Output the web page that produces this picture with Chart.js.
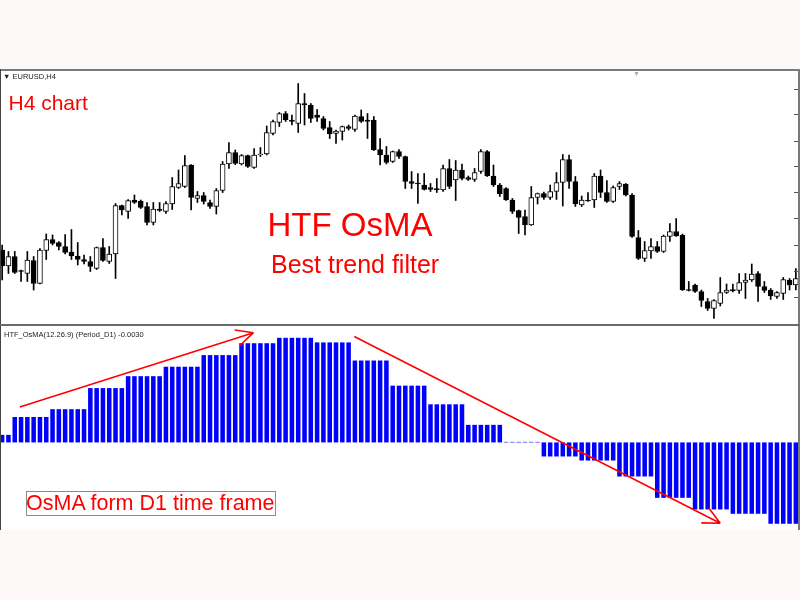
<!DOCTYPE html>
<html>
<head>
<meta charset="utf-8">
<title>HTF OsMA</title>
<script src="https://cdn.jsdelivr.net/npm/chart.js@4.4.1/dist/chart.umd.min.js"></script>
<style>
  body { margin:0; width:800px; height:600px; background:#fdf9f9; position:relative; overflow:hidden; font-family:"Liberation Sans", Arial, sans-serif; }
  #panel { position:absolute; left:0; top:69px; width:800px; height:461px; background:#fff; }
  canvas { position:absolute; }
  #price { left:-1px; top:71px; }
  #osma { left:-1px; top:327px; }
  .line { position:absolute; background:#7a7a7a; }
  .txt { position:absolute; line-height:1; white-space:nowrap; color:#ff0000; }
  .small { position:absolute; line-height:1; white-space:nowrap; color:#222; font-size:7.5px; }
</style>
</head>
<body>
<div id="panel"></div>
<canvas id="price" width="800" height="252"></canvas>
<canvas id="osma" width="800" height="203"></canvas>

<div class="line" style="left:0;top:69px;width:800px;height:2px"></div>
<div class="line" style="left:0;top:69px;width:1px;height:461px;background:#444"></div>
<div class="line" style="left:798px;top:69px;width:2px;height:461px"></div>
<div class="line" style="left:0;top:324px;width:800px;height:2px;background:#6a6a6a"></div>

<div class="small" style="left:3px;top:73px">&#9660; EURUSD,H4</div>
<div class="small" style="left:633px;top:70px;color:#aaa;font-size:7px">&#9660;</div>
<div class="small" style="left:4px;top:331px">HTF_OsMA(12.26.9) (Period_D1) -0.0030</div>

<div class="txt" style="left:8.5px;top:91.5px;font-size:21px">H4 chart</div>
<div class="txt" style="left:267.5px;top:207.5px;font-size:33px">HTF OsMA</div>
<div class="txt" style="left:271px;top:252px;font-size:25px">Best trend filter</div>
<div style="position:absolute;left:26px;top:491px;width:250px;height:25px;box-sizing:border-box;border:1px solid #8a8a8a"></div>
<div class="txt" style="left:26px;top:492.5px;font-size:21.5px">OsMA form D1 time frame</div>

<script>
// EURUSD H4 candles, oldest -> newest
const open = [
  1.1500, 1.1468, 1.1487, 1.1459, 1.1453, 1.1479, 1.1433, 1.1499, 1.1521, 1.1515,
  1.1507, 1.1496, 1.1488, 1.1481, 1.1477, 1.1463, 1.1505, 1.1477, 1.1492, 1.1589,
  1.1577, 1.1600, 1.1598, 1.1587, 1.1555, 1.1582, 1.1577, 1.1592, 1.1625, 1.1627,
  1.1670, 1.1603, 1.1609, 1.1595, 1.1587, 1.1619, 1.1672, 1.1695, 1.1672, 1.1689,
  1.1665, 1.1690, 1.1692, 1.1733, 1.1755, 1.1773, 1.1760, 1.1753, 1.1793, 1.1790,
  1.1770, 1.1763, 1.1745, 1.1733, 1.1737, 1.1747, 1.1741, 1.1767, 1.1760, 1.1760,
  1.1701, 1.1690, 1.1677, 1.1697, 1.1687, 1.1637, 1.1634, 1.1630, 1.1625, 1.1623,
  1.1620, 1.1663, 1.1640, 1.1660, 1.1645, 1.1641, 1.1657, 1.1697, 1.1648, 1.1630,
  1.1623, 1.1600, 1.1579, 1.1567, 1.1550, 1.1605, 1.1613, 1.1605, 1.1617, 1.1635,
  1.1681, 1.1637, 1.1590, 1.1600, 1.1600, 1.1648, 1.1615, 1.1597, 1.1627, 1.1632,
  1.1610, 1.1525, 1.1483, 1.1498, 1.1507, 1.1497, 1.1527, 1.1537, 1.1530, 1.1421,
  1.1430, 1.1417, 1.1397, 1.1383, 1.1393, 1.1415, 1.1421, 1.1419, 1.1435, 1.1440,
  1.1453, 1.1427, 1.1420, 1.1407, 1.1413, 1.1440, 1.1430
];
const high = [
  1.1510, 1.1497, 1.1497, 1.1460, 1.1497, 1.1487, 1.1503, 1.1532, 1.1530, 1.1517,
  1.1531, 1.1541, 1.1515, 1.1490, 1.1487, 1.1506, 1.1523, 1.1507, 1.1593, 1.1590,
  1.1601, 1.1610, 1.1600, 1.1595, 1.1595, 1.1595, 1.1597, 1.1645, 1.1660, 1.1689,
  1.1671, 1.1617, 1.1615, 1.1600, 1.1623, 1.1677, 1.1715, 1.1700, 1.1691, 1.1690,
  1.1703, 1.1705, 1.1748, 1.1760, 1.1775, 1.1777, 1.1770, 1.1833, 1.1813, 1.1793,
  1.1781, 1.1767, 1.1757, 1.1740, 1.1748, 1.1750, 1.1770, 1.1780, 1.1773, 1.1767,
  1.1723, 1.1707, 1.1698, 1.1701, 1.1688, 1.1657, 1.1653, 1.1653, 1.1633, 1.1643,
  1.1670, 1.1681, 1.1679, 1.1672, 1.1648, 1.1663, 1.1701, 1.1699, 1.1670, 1.1633,
  1.1625, 1.1603, 1.1580, 1.1580, 1.1627, 1.1614, 1.1616, 1.1630, 1.1655, 1.1691,
  1.1690, 1.1647, 1.1608, 1.1615, 1.1653, 1.1660, 1.1639, 1.1628, 1.1637, 1.1633,
  1.1613, 1.1539, 1.1517, 1.1523, 1.1517, 1.1530, 1.1553, 1.1563, 1.1532, 1.1437,
  1.1432, 1.1420, 1.1403, 1.1401, 1.1445, 1.1432, 1.1432, 1.1453, 1.1453, 1.1472,
  1.1457, 1.1437, 1.1423, 1.1417, 1.1445, 1.1443, 1.1463
];
const low = [
  1.1440, 1.1453, 1.1453, 1.1437, 1.1437, 1.1420, 1.1432, 1.1481, 1.1510, 1.1500,
  1.1492, 1.1481, 1.1470, 1.1472, 1.1457, 1.1461, 1.1477, 1.1473, 1.1443, 1.1570,
  1.1563, 1.1593, 1.1583, 1.1550, 1.1550, 1.1577, 1.1573, 1.1581, 1.1623, 1.1625,
  1.1580, 1.1595, 1.1592, 1.1583, 1.1572, 1.1615, 1.1663, 1.1671, 1.1670, 1.1665,
  1.1663, 1.1687, 1.1690, 1.1730, 1.1747, 1.1757, 1.1750, 1.1735, 1.1750, 1.1755,
  1.1757, 1.1740, 1.1723, 1.1713, 1.1720, 1.1740, 1.1737, 1.1755, 1.1723, 1.1699,
  1.1670, 1.1672, 1.1675, 1.1683, 1.1623, 1.1623, 1.1593, 1.1620, 1.1617, 1.1615,
  1.1617, 1.1623, 1.1599, 1.1640, 1.1639, 1.1637, 1.1653, 1.1647, 1.1627, 1.1607,
  1.1599, 1.1573, 1.1533, 1.1530, 1.1549, 1.1592, 1.1601, 1.1601, 1.1601, 1.1588,
  1.1623, 1.1587, 1.1587, 1.1597, 1.1585, 1.1605, 1.1595, 1.1595, 1.1621, 1.1608,
  1.1525, 1.1481, 1.1477, 1.1483, 1.1495, 1.1495, 1.1517, 1.1527, 1.1419, 1.1418,
  1.1415, 1.1387, 1.1379, 1.1363, 1.1388, 1.1413, 1.1416, 1.1413, 1.1403, 1.1437,
  1.1397, 1.1415, 1.1401, 1.1403, 1.1401, 1.1420, 1.1420
];
const close = [
  1.1468, 1.1487, 1.1455, 1.1457, 1.1480, 1.1433, 1.1500, 1.1521, 1.1513, 1.1507,
  1.1495, 1.1488, 1.1481, 1.1477, 1.1467, 1.1505, 1.1479, 1.1492, 1.1589, 1.1580,
  1.1599, 1.1595, 1.1585, 1.1555, 1.1582, 1.1579, 1.1593, 1.1627, 1.1633, 1.1669,
  1.1605, 1.1609, 1.1597, 1.1587, 1.1619, 1.1672, 1.1695, 1.1673, 1.1689, 1.1667,
  1.1690, 1.1692, 1.1735, 1.1757, 1.1773, 1.1760, 1.1757, 1.1793, 1.1790, 1.1763,
  1.1765, 1.1743, 1.1732, 1.1738, 1.1747, 1.1743, 1.1768, 1.1757, 1.1757, 1.1700,
  1.1690, 1.1675, 1.1697, 1.1687, 1.1637, 1.1633, 1.1632, 1.1621, 1.1621, 1.1620,
  1.1663, 1.1627, 1.1660, 1.1643, 1.1641, 1.1655, 1.1697, 1.1648, 1.1630, 1.1612,
  1.1600, 1.1577, 1.1565, 1.1550, 1.1605, 1.1613, 1.1605, 1.1617, 1.1635, 1.1681,
  1.1637, 1.1592, 1.1600, 1.1598, 1.1648, 1.1615, 1.1597, 1.1625, 1.1633, 1.1610,
  1.1527, 1.1483, 1.1499, 1.1507, 1.1497, 1.1528, 1.1537, 1.1528, 1.1420, 1.1419,
  1.1417, 1.1399, 1.1383, 1.1399, 1.1415, 1.1420, 1.1418, 1.1435, 1.1440, 1.1452,
  1.1427, 1.1419, 1.1408, 1.1415, 1.1441, 1.1430, 1.1443
];
const priceTicks = [1.1823, 1.1771, 1.1719, 1.1667, 1.1615, 1.1563, 1.1510, 1.1458, 1.1406];

// OsMA from D1, one value per day, and how many H4 bars each day spans on screen
const d1Osma = [
  0.00028, 0.00094, 0.00123, 0.00201, 0.00245, 0.00280, 0.00323, 0.00367, 0.00387, 0.00370,
  0.00303, 0.00210, 0.00141, 0.00065, 0.00002, -0.00052, -0.00067, -0.00126, -0.00205, -0.00248,
  -0.00264, -0.00301
];
const d1Bars = [2, 6, 6, 6, 6, 6, 6, 6, 6, 6, 6, 6, 6, 6, 6, 6, 6, 6, 6, 6, 6, 5];

// hand-drawn red arrows, [bar index, OsMA value]
const arrows = [
  { from: [2.8, 0.00131], to: [39.9, 0.00406] },
  { from: [55.9, 0.00392], to: [114.0, -0.00299] }
];

const barLabels = open.map((_, i) => String(i));

const osmaBars = [];
d1Osma.forEach((v, d) => {
  for (let k = 0; k < d1Bars[d]; k++) osmaBars.push(v);
});

const tickMarks = {
  id: 'tickMarks',
  afterDraw(chart) {
    const { ctx, chartArea, scales: { y } } = chart;
    ctx.save();
    ctx.strokeStyle = '#555';
    ctx.lineWidth = 1;
    priceTicks.forEach(v => {
      const py = Math.round(y.getPixelForValue(v)) + 0.5;
      ctx.beginPath();
      ctx.moveTo(chartArea.right - 5, py);
      ctx.lineTo(chartArea.right, py);
      ctx.stroke();
    });
    ctx.restore();
  }
};

const arrowPlugin = {
  id: 'arrows',
  afterDatasetsDraw(chart) {
    const { ctx, scales: { x, y } } = chart;
    ctx.save();
    ctx.strokeStyle = '#ff0000';
    ctx.lineWidth = 1.6;
    arrows.forEach(a => {
      const x1 = x.getPixelForValue(a.from[0]), y1 = y.getPixelForValue(a.from[1]);
      const x2 = x.getPixelForValue(a.to[0]), y2 = y.getPixelForValue(a.to[1]);
      const ang = Math.atan2(y2 - y1, x2 - x1);
      ctx.beginPath();
      ctx.moveTo(x1, y1);
      ctx.lineTo(x2, y2);
      [-0.45, 0.45].forEach(d => {
        ctx.moveTo(x2, y2);
        ctx.lineTo(x2 - 19 * Math.cos(ang + d), y2 - 19 * Math.sin(ang + d));
      });
      ctx.stroke();
    });
    ctx.restore();
  }
};

const common = {
  responsive: false,
  animation: false,
  events: [],
  layout: { padding: 0 },
  plugins: { legend: { display: false }, tooltip: { enabled: false } }
};

// candlesticks: body = floating bar open..close, wick = thin floating bar low..high
new Chart(document.getElementById('price'), {
  type: 'bar',
  data: {
    labels: barLabels,
    datasets: [{
      data: open.map((o, i) => [o, close[i]]),
      backgroundColor: open.map((o, i) => close[i] >= o ? '#ffffff' : '#000000'),
      borderColor: '#000000',
      borderWidth: 1,
      borderSkipped: false,
      barThickness: 5,
      grouped: false,
      order: 1
    }, {
      data: low.map((l, i) => [l, high[i]]),
      backgroundColor: '#000000',
      barThickness: 1,
      grouped: false,
      order: 2
    }]
  },
  options: {
    ...common,
    scales: {
      x: { display: false },
      y: { display: false, min: 1.1354, max: 1.1858 }
    }
  },
  plugins: [tickMarks]
});

new Chart(document.getElementById('osma'), {
  type: 'bar',
  data: {
    labels: barLabels,
    datasets: [{
      data: osmaBars,
      backgroundColor: '#0000ff',
      barPercentage: 0.72,
      categoryPercentage: 1.0
    }]
  },
  options: {
    ...common,
    scales: {
      x: { display: false },
      y: { display: false, min: -0.00324, max: 0.00427 }
    }
  },
  plugins: [arrowPlugin]
});
</script>
</body>
</html>
